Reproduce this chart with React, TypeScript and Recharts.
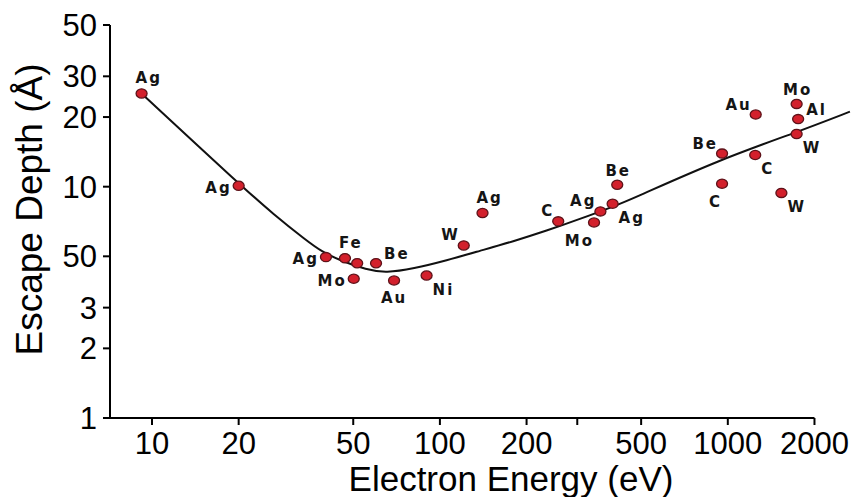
import {
  ComposedChart,
  Line,
  Scatter,
  XAxis,
  YAxis,
  ReferenceLine,
  Label,
} from "recharts";

const FONT = '"Liberation Sans", Arial, sans-serif';

// measured points (eV, Å)
const ENERGY = [
  9.2, 20, 40.2, 46.8, 51.6, 60, 50.2, 69.3, 89.9, 121, 140.6, 257.6, 343,
  361, 398, 413, 955, 955, 1250, 1245, 1734, 1755, 1734, 1535,
];
const DEPTH = [
  25.3, 10.1, 4.96, 4.91, 4.67, 4.67, 4.0, 3.93, 4.13, 5.57, 7.7, 7.08, 7.0,
  7.82, 8.44, 10.2, 13.9, 10.3, 20.5, 13.7, 22.8, 19.6, 16.9, 9.4,
];
const ELEMENT = [
  "Ag", "Ag", "Ag", "Fe", "", "Be", "Mo", "Au", "Ni", "W", "Ag", "C", "Mo",
  "Ag", "Ag", "Be", "Be", "C", "Au", "C", "Mo", "Al", "W", "W",
];
const LABEL_SIDE = [
  "ne", "w", "w", "ne", "", "e", "w", "s", "se", "nw", "ne", "nw", "sw",
  "nw", "se", "n", "nw", "sw", "nw", "se", "n", "e", "se", "se",
];

// universal curve
const CURVE_ENERGY = [
  9.2, 20.2, 26.4, 34.4, 38.8, 45, 55.7, 65, 80.8, 105.5, 137.7, 179.7, 234.7,
  306.3, 399.6, 469, 938, 1737, 2655,
];
const CURVE_DEPTH = [
  25.3, 10.2, 7.6, 5.85, 5.25, 4.8, 4.37, 4.24, 4.42, 4.8, 5.28, 5.8, 6.45,
  7.25, 8.2, 8.9, 13.1, 17.2, 21.1,
];

const X_TICKS = [10, 20, 50, 100, 200, 300, 500, 1000, 2000];
const X_TICK_LABELS = ["10", "20", "50", "100", "200", "", "500", "1000", "2000"];
const Y_TICKS = [1, 2, 3, 5, 10, 20, 30, 50];
const Y_TICK_LABELS = ["1", "2", "3", "50", "10", "20", "30", "50"];

const PLACE: Record<
  string,
  { dx: number; dy: number; anchor: "start" | "middle" | "end" }
> = {
  n: { dx: 1, dy: -9, anchor: "middle" },
  ne: { dx: -6, dy: -10, anchor: "start" },
  nw: { dx: -4, dy: -5, anchor: "end" },
  e: { dx: 8, dy: -4, anchor: "start" },
  w: { dx: -7, dy: 7, anchor: "end" },
  s: { dx: 0, dy: 22, anchor: "middle" },
  se: { dx: 6, dy: 19, anchor: "start" },
  sw: { dx: 0, dy: 23, anchor: "end" },
};

function Dot(props: any) {
  const { cx, cy, payload } = props;
  const p = PLACE[payload.side];
  return (
    <g>
      <ellipse
        cx={cx}
        cy={cy}
        rx={5.5}
        ry={4.6}
        fill="#d3202c"
        stroke="#5e1219"
        strokeWidth={1.3}
      />
      {p && payload.name && (
        <text
          x={cx + p.dx}
          y={cy + p.dy}
          textAnchor={p.anchor}
          fontFamily='"DejaVu Sans", sans-serif'
          fontWeight="bold"
          fontSize={15}
          letterSpacing={2}
          fill="#151515"
        >
          {payload.name}
        </text>
      )}
    </g>
  );
}

function XTitle({ viewBox }: any) {
  return (
    <text
      x={viewBox.x + viewBox.width / 2 + 30}
      y={viewBox.y + viewBox.height - 6}
      textAnchor="middle"
      fontFamily={FONT}
      fontSize={35}
      fill="#000"
    >
      Electron Energy (eV)
    </text>
  );
}

function YTitle({ viewBox }: any) {
  const cy = viewBox.y + viewBox.height / 2 - 12;
  return (
    <text
      x={42}
      y={cy}
      transform={`rotate(-90, 42, ${cy})`}
      textAnchor="middle"
      fontFamily={FONT}
      fontSize={37}
      fill="#000"
    >
      Escape Depth (Å)
    </text>
  );
}

export default function App() {
  const points = ENERGY.map((x, i) => ({
    x,
    y: DEPTH[i],
    name: ELEMENT[i],
    side: LABEL_SIDE[i],
  }));
  const curve = CURVE_ENERGY.map((x, i) => ({ x, y: CURVE_DEPTH[i] }));

  return (
    <div style={{ position: "absolute", left: 0, top: 0, background: "#fff" }}>
      <ComposedChart
        width={862}
        height={497}
        margin={{ top: 25, right: 10, bottom: 0, left: 0 }}
      >
        <XAxis
          type="number"
          dataKey="x"
          scale="log"
          domain={[7.147, 2700]}
          allowDataOverflow
          ticks={X_TICKS}
          interval={0}
          tickFormatter={(v: number) => X_TICK_LABELS[X_TICKS.indexOf(v)] ?? ""}
          height={79}
          axisLine={false}
          tickSize={7}
          tickMargin={7}
          tickLine={{ stroke: "#000", strokeWidth: 2 }}
          tick={{ fontSize: 31, fill: "#000", fontFamily: FONT }}
          label={<Label content={XTitle} />}
        />
        <YAxis
          type="number"
          dataKey="y"
          scale="log"
          domain={[1, 50]}
          allowDataOverflow
          ticks={Y_TICKS}
          interval={0}
          tickFormatter={(v: number) => Y_TICK_LABELS[Y_TICKS.indexOf(v)] ?? ""}
          width={110}
          axisLine={{ stroke: "#000", strokeWidth: 2 }}
          tickSize={7}
          tickMargin={6}
          tickLine={{ stroke: "#000", strokeWidth: 2 }}
          tick={{ fontSize: 31, fill: "#000", fontFamily: FONT }}
          label={<Label content={YTitle} />}
        />
        <ReferenceLine
          segment={[
            { x: 7.147, y: 1 },
            { x: 2000, y: 1 },
          ]}
          stroke="#000"
          strokeWidth={2}
          ifOverflow="visible"
        />
        <Line
          data={curve}
          dataKey="y"
          type="basis"
          stroke="#111"
          strokeWidth={2}
          dot={false}
          activeDot={false}
          isAnimationActive={false}
        />
        <Scatter
          data={points}
          dataKey="y"
          shape={(p: any) => <Dot {...p} />}
          isAnimationActive={false}
        />
      </ComposedChart>
    </div>
  );
}
